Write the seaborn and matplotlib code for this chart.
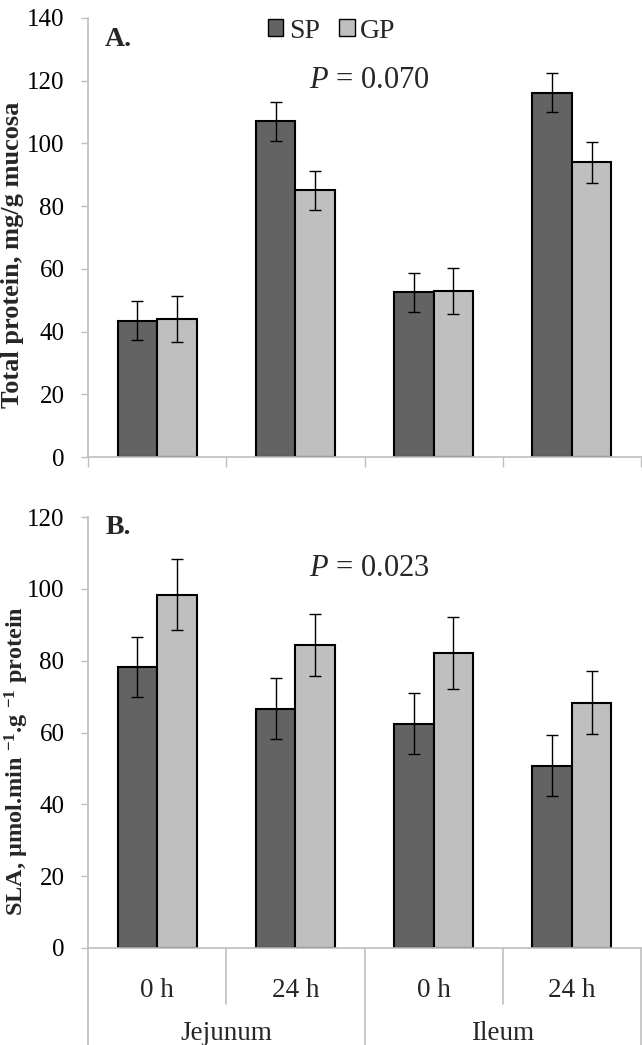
import numpy as np
import pandas as pd
import matplotlib
matplotlib.use("Agg")
import matplotlib.pyplot as plt
from matplotlib.patches import Patch
import matplotlib.transforms as mtransforms
import seaborn as sns

# ---- data ----
positions = ["Jejunum 0 h", "Jejunum 24 h", "Ileum 0 h", "Ileum 24 h"]
time_labels = ["0 h", "24 h", "0 h", "24 h"]
segments = ["Jejunum", "Ileum"]
groups = ["SP", "GP"]

protein_sp = [43.5, 107.0, 52.5, 116.2]
protein_gp = [44.0, 85.0, 53.0, 94.0]
protein_sp_err = [6.2, 6.2, 6.2, 6.2]
protein_gp_err = [7.3, 6.3, 7.3, 6.5]

sla_sp = [78.3, 66.6, 62.4, 50.7]
sla_gp = [98.4, 84.3, 82.2, 68.3]
sla_sp_err = [8.4, 8.5, 8.5, 8.5]
sla_gp_err = [10.0, 8.6, 10.0, 8.8]

colors = {"SP": "#636363", "GP": "#bfbfbf"}
grid_grey = "#bfbfbf"

sns.set_theme(style="white")
plt.rcParams["font.family"] = ["Liberation Serif", "DejaVu Serif"]
plt.rcParams["mathtext.fontset"] = "custom"
plt.rcParams["mathtext.rm"] = "Liberation Serif"
plt.rcParams["mathtext.it"] = "Liberation Serif:italic"
plt.rcParams["mathtext.bf"] = "Liberation Serif:bold"


def make_df(sp, gp):
    return pd.DataFrame({
        "pos": positions * 2,
        "group": ["SP"] * 4 + ["GP"] * 4,
        "value": list(sp) + list(gp),
    })


fig = plt.figure(figsize=(6.42, 10.45), dpi=100)
axA = fig.add_axes([88 / 642, 1 - 457 / 1045, (641 - 88) / 642, (457 - 18) / 1045])
axB = fig.add_axes([88 / 642, 1 - 948 / 1045, (641 - 88) / 642, (948 - 517) / 1045])


def draw(ax, sp, gp, sp_err, gp_err, ymax, ylabel, label_x, label_y, label_size):
    df = make_df(sp, gp)
    sns.barplot(data=df, x="pos", y="value", hue="group", order=positions,
                hue_order=groups, palette=colors, width=0.57, errorbar=None,
                edgecolor="black", linewidth=1.5, saturation=1, ax=ax, legend=False)
    errs = {"SP": sp_err, "GP": gp_err}
    vals = {"SP": sp, "GP": gp}
    bar_containers = list(ax.containers)
    for gi, cont in enumerate(bar_containers):
        g = groups[gi]
        xs = [p.get_x() + p.get_width() / 2 for p in cont.patches]
        ax.errorbar(xs, vals[g], yerr=errs[g], fmt="none", ecolor="black",
                    elinewidth=1.0, capsize=4.3, capthick=1.0, zorder=5)
    ax.set_xlim(-0.5, 3.5)
    ax.set_ylim(0, ymax)
    ax.set_yticks(np.arange(0, ymax + 1, 20))
    ax.tick_params(axis="y", labelsize=18, length=5, width=1, color=grid_grey,
                   left=True, pad=12, labelcolor="black")
    for s in ["top", "right"]:
        ax.spines[s].set_visible(False)
    for s in ["left", "bottom"]:
        ax.spines[s].set_color(grid_grey)
        ax.spines[s].set_linewidth(1.2)
    ax.set_ylabel(ylabel, fontsize=label_size, fontweight="bold")
    ax.yaxis.set_label_coords((label_x - 88) / 553, label_y)
    ax.set_xlabel("")


draw(axA, protein_sp, protein_gp, protein_sp_err, protein_gp_err, 140,
     "Total protein, mg/g mucosa", 24, (457 - 255) / 439, 19)
draw(axB, sla_sp, sla_gp, sla_sp_err, sla_gp_err, 120,
     r"SLA, µmol.min $^{\mathbf{-1}}$.g $^{\mathbf{-1}}$ protein", 31, (948 - 761) / 431, 17.5)

# Panel A x-axis: ticks at category boundaries, no labels
axA.set_xticks([-0.5, 0.5, 1.5, 2.5, 3.5])
axA.set_xticklabels([])
axA.tick_params(axis="x", bottom=True, length=7, width=1, color=grid_grey)

# Panel B x-axis: two-level labels
axB.set_xticks(range(4))
axB.set_xticklabels(time_labels, fontsize=19.5)
axB.tick_params(axis="x", bottom=False, length=0, pad=21.5)
trans = mtransforms.blended_transform_factory(axB.transData, axB.transAxes)
short_y = -(1004 - 948) / 431
long_y = -(1046 - 948) / 431
for xb in [0.5, 2.5]:
    axB.plot([xb, xb], [0, short_y], transform=trans, color=grid_grey, lw=1.2, clip_on=False)
for xb in [-0.5, 1.5, 3.5]:
    axB.plot([xb, xb], [0, long_y], transform=trans, color=grid_grey, lw=1.2, clip_on=False)
for i, seg in enumerate(segments):
    axB.text(0.5 + 2 * i, -(1033 - 948) / 431, seg, transform=trans,
             ha="center", va="center", fontsize=19.5)

# Panel letters and P values
axA.text((105 - 88) / 553, (457 - 39) / 439, "A.", transform=axA.transAxes, fontsize=20,
         fontweight="bold", ha="left", va="center")
axB.text((106 - 88) / 553, (948 - 528) / 431, "B.", transform=axB.transAxes, fontsize=20,
         fontweight="bold", ha="left", va="center")
axA.text((369 - 88) / 553, (457 - 80) / 439, r"$\mathit{P}$ = 0.070", transform=axA.transAxes,
         fontsize=22, ha="center", va="center")
axB.text((369 - 88) / 553, (948 - 568) / 431, r"$\mathit{P}$ = 0.023", transform=axB.transAxes,
         fontsize=22, ha="center", va="center")

# Legend
handles = [Patch(facecolor=colors[g], edgecolor="black", linewidth=1.0, label=g) for g in groups]
axA.legend(handles=handles, loc="center", bbox_to_anchor=((332 - 88) / 553, (457 - 31) / 439),
           ncol=2, frameon=False, fontsize=20, handlelength=0.55, handleheight=0.55,
           handletextpad=0.2, columnspacing=0.7, borderpad=0)

fig.savefig("out.png", dpi=100)
